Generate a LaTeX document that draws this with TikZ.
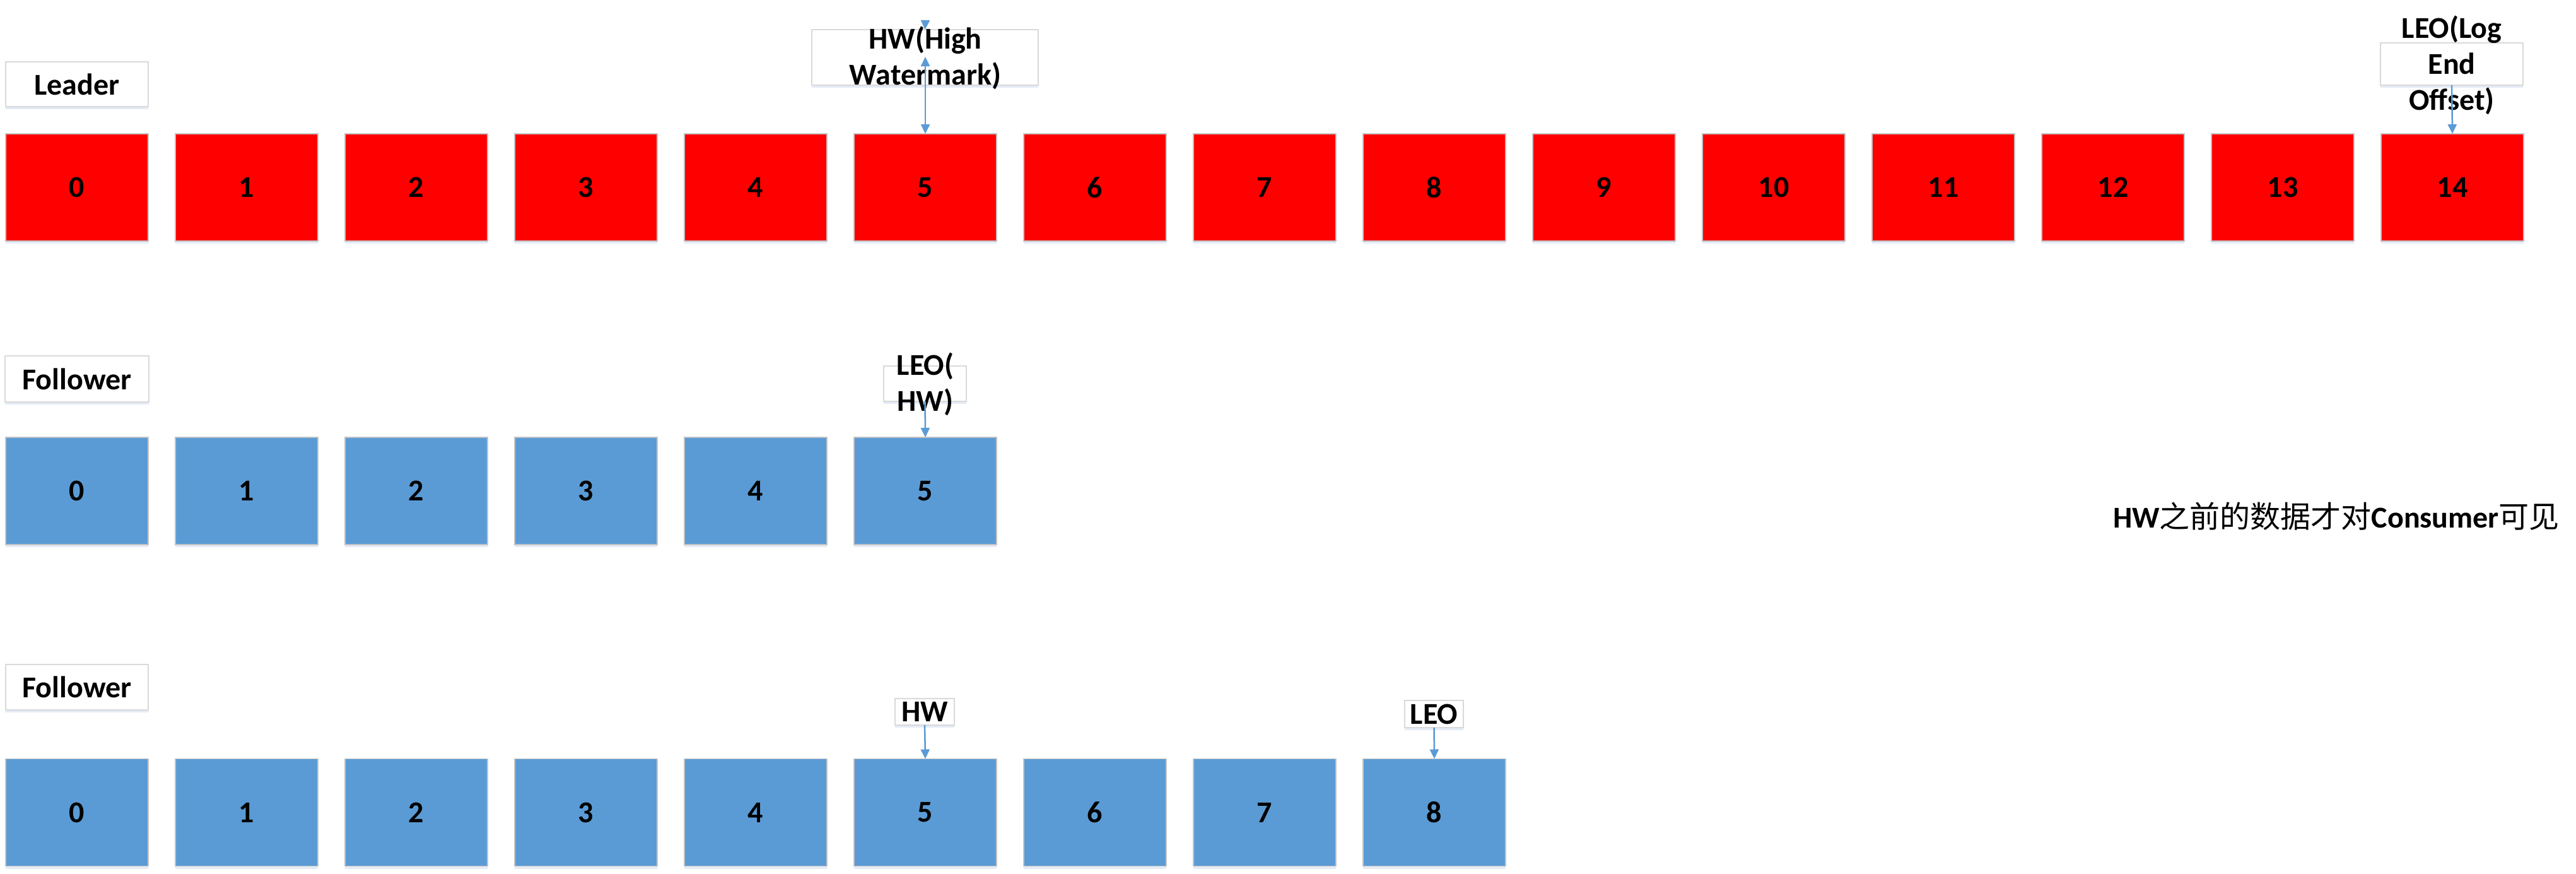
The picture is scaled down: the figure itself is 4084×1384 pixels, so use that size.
\documentclass[tikz,border=0pt]{standalone}
\usepackage{fontspec}
\setmainfont{Carlito}
\newfontfamily\cjk{Noto Sans CJK SC}
\usetikzlibrary{arrows.meta,shadows}
\definecolor{kred}{HTML}{FF0000}
\definecolor{kblue}{HTML}{5B9BD5}
\definecolor{kedge}{HTML}{C4C4C4}
\definecolor{ledge}{HTML}{D9D9D9}
\definecolor{kshadow}{HTML}{B4C7E7}
\begin{document}
\begin{tikzpicture}[x=1pt,y=-1pt,
  every node/.style={font=\fontsize{48}{57}\selectfont\bfseries, inner sep=0pt, outer sep=0pt},
  shd/.style={drop shadow={shadow xshift=0pt,shadow yshift=-4pt,fill=kshadow,opacity=0.35}},
  cell/.style={draw=kedge, line width=1.5pt, minimum width=226pt, minimum height=170pt, shd},
  redcell/.style={cell, fill=kred},
  bluecell/.style={cell, fill=kblue},
  lbl/.style={draw=ledge, line width=1.5pt, fill=white, shd},
  txt/.style={align=center, text=black},
  arr/.style={draw=kblue, line width=2.5pt, -{Triangle[length=15pt,width=14pt]}},
  arrb/.style={draw=kblue, line width=2.5pt, {Triangle[length=15pt,width=14pt]}-{Triangle[length=15pt,width=14pt]}}
]
\useasboundingbox (0,0) rectangle (4084,1384);
\fill[white] (0,0) rectangle (4084,1384);

% row labels
\node[lbl, minimum width=226pt, minimum height=71pt] (lead) at (122,133.5) {Leader};
\node[lbl, minimum width=228pt, minimum height=73pt] (fol1) at (122,600.5) {Follower};
\node[lbl, minimum width=226pt, minimum height=72pt] (fol2) at (122,1089) {Follower};

% cells
\foreach \i in {0,...,14}{
  \node[redcell] (L\i) at (122+269*\i,297) {\i};
}
\foreach \i in {0,...,5}{
  \node[bluecell] (F\i) at (122+269*\i,778) {\i};
}
\foreach \i in {0,...,8}{
  \node[bluecell] (G\i) at (122+269*\i,1287.5) {\i};
}

% leader HW
\node[lbl, minimum width=359pt, minimum height=88pt] (hwbox) at (1466.5,91) {};
\node[txt] (hwtext) at (1467,92) {HW(High\\Watermark)};
\coordinate (hwtop) at (1467,32);
\coordinate (hwtip) at (1467,90);
\draw[arr] (hwtop) -- (hwbox.north);
\draw[arrb] (hwtip) -- (L5.north);

% leader LEO
\node[lbl, minimum width=226pt, minimum height=67pt] (leobox) at (3887,101.5) {};
\node[txt] (leotext) at (3887,103) {LEO(Log\\End\\Offset)};
\draw[arr] (leobox.south) -- (L14.north);

% follower 1 LEO(HW)
\node[lbl, minimum width=131pt, minimum height=56pt] (f1box) at (1466.5,608) {};
\node[txt] (f1text) at (1467,609) {LEO(\\HW)};
\draw[arr] (f1box.south) -- (F5.north);

% follower 2 HW and LEO
\node[lbl, minimum width=94pt, minimum height=42pt] (g2hw) at (1466,1128) {HW};
\node[lbl, minimum width=93pt, minimum height=43pt] (g2leo) at (2273.5,1131.5) {LEO};
\draw[arr] (g2hw.south) -- (G5.north);
\draw[arr] (g2leo.south) -- (G8.north);

% note
\node[anchor=base west, font=\fontsize{48}{57}\selectfont] (note) at (3350,836) {\bfseries HW{\cjk\mdseries 之前的数据才对}Consumer{\cjk\mdseries 可见}};
\end{tikzpicture}
\end{document}
